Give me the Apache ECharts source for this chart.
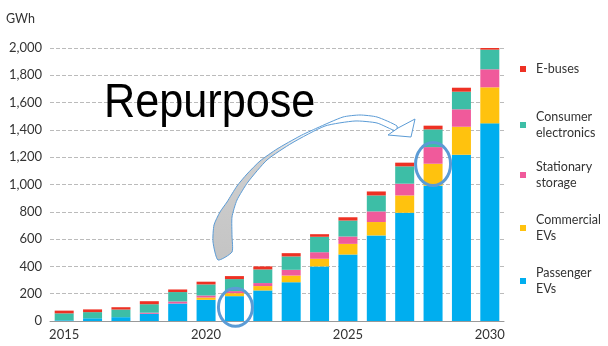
<!DOCTYPE html>
<html>
<head>
<meta charset="utf-8">
<script src="https://cdn.jsdelivr.net/npm/echarts@6/dist/echarts.min.js"></script>
<style>html,body{margin:0;padding:0;background:#fff}#c{width:608px;height:346px}</style>
</head>
<body>
<div id="c"></div>
<script>
const years = ['2015','2016','2017','2018','2019','2020','2021','2022','2023','2024','2025','2026','2027','2028','2029','2030'];
const passengerEVs   = [5, 20, 28, 53, 128, 155, 182, 224, 284, 400, 487, 627, 793, 991, 1218, 1448];
const commercialEVs  = [0, 0, 0, 0, 0, 17, 22, 32, 49, 56, 78, 98, 127, 161, 205, 264];
const stationary     = [0, 0, 0, 8, 15, 15, 15, 22, 42, 48, 54, 78, 86, 122, 128, 132];
const consumerElec   = [51, 45, 56, 62, 69, 81, 88, 100, 98, 113, 117, 117, 127, 130, 129, 144];
const eBuses         = [20, 20, 17, 22, 19, 20, 22, 22, 24, 19, 24, 29, 27, 27, 29, 15];
const seriesNames = ['Passenger EVs','Commercial EVs','Stationary storage','Consumer electronics','E-buses'];
const legendLabels = {'E-buses':'E-buses','Consumer electronics':'Consumer\nelectronics','Stationary storage':'Stationary\nstorage','Commercial EVs':'Commercial\nEVs','Passenger EVs':'Passenger\nEVs'};
const colors = ['#00AEEF','#FFC20E','#F05A9B','#3DBEA6','#EE3124'];
const yTicks = {min:0, max:2000, interval:200};

const chart = echarts.init(document.getElementById('c'));
const font = 'Lato, "Noto Sans", sans-serif';
const dataSets = [passengerEVs, commercialEVs, stationary, consumerElec, eBuses];
const legendOrder = ['E-buses','Consumer electronics','Stationary storage','Commercial EVs','Passenger EVs'];
const legendTops = [61, 109, 159, 212, 265];

chart.setOption({
  animation:false,
  title:{text:'GWh', left:6, top:12, textStyle:{fontFamily:font, fontSize:12.5, fontWeight:'normal', color:'#333'}, padding:0},
  grid:{left:50, right:104, top:48, bottom:25, containLabel:false},
  legend: legendOrder.map((n,i)=>({
    data:[n], left:520, top:legendTops[i], orient:'vertical', icon:'rect', itemWidth:6, itemHeight:6, padding:0,
    formatter:(name)=>legendLabels[name],
    textStyle:{fontFamily:font, fontSize:12.5, lineHeight:16, color:'#333', padding:[0,0,0,5]}
  })),
  xAxis:{type:'category', data:years,
    axisLine:{lineStyle:{color:'#999'}},
    axisTick:{interval:4, length:4, lineStyle:{color:'#999'}},
    axisLabel:{interval:4, fontFamily:font, fontSize:13, color:'#333', margin:7}
  },
  yAxis:{type:'value', min:yTicks.min, max:yTicks.max, interval:yTicks.interval,
    axisLine:{show:false}, axisTick:{show:false},
    axisLabel:{fontFamily:font, fontSize:13, color:'#333', margin:8, formatter:(v)=>v.toLocaleString('en-US')},
    splitLine:{lineStyle:{color:'#bbb', type:[4,2], width:1}}
  },
  series: seriesNames.map((n,i)=>({
    name:n, type:'bar', stack:'total', barWidth:19, data:dataSets[i], itemStyle:{color:colors[i]}
  }))
});

function px(cat, val){ return chart.convertToPixel({xAxisIndex:0,yAxisIndex:0},[cat,val]); }
const e1 = px('2021', 100);
const e2 = px('2028', 1150);
const blue = '#5B9BD5';
chart.setOption({
  graphic:[
    {type:'text', left:104, top:80, z:10, scaleX:0.9, style:{text:'Repurpose', font:'48px "Liberation Sans", Arial, sans-serif', fill:'#000'}},
    {type:'polygon', z:5, shape:{smooth:0.2, points:[
      [218,260],[213,242],[214,225],[220,212],[227,202],[237,186],[247,174],[260,161],[277,149],[300,136],[317,128],[343,117],[360,115],[377,117],[397,126],
      [396,131],[377,123],[355,121],[325,126],[292,143],[267,160],[248,182],[237,200],[232,217],[232,236],[232,252]
    ]}, style:{fill:{type:'linear', x:0, y:260, x2:0, y2:110, global:true,
      colorStops:[{offset:0,color:'#C4C4C4'},{offset:0.7,color:'#CFCFCF'},{offset:0.85,color:'#ffffff'},{offset:1,color:'#ffffff'}]},
      stroke:blue, lineWidth:1}},
    {type:'polygon', z:6, shape:{points:[[388,135],[411,137],[415,119],[398,128]]}, style:{fill:'#fff', stroke:blue, lineWidth:1}},
    {type:'ellipse', z:7, shape:{cx:e1[0]+1, cy:e1[1], rx:17, ry:19}, style:{fill:null, stroke:blue, lineWidth:3}},
    {type:'ellipse', z:7, shape:{cx:e2[0], cy:e2[1], rx:17.5, ry:21.5}, style:{fill:null, stroke:blue, lineWidth:3}}
  ]
});
</script>
</body>
</html>
